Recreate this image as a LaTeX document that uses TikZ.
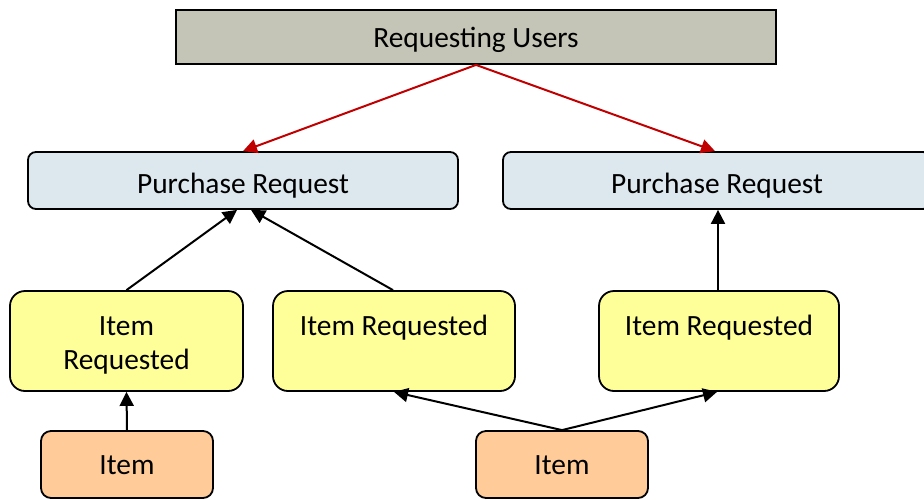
\documentclass[tikz,border=0pt]{standalone}
\usepackage{fontspec}
\setmainfont{Carlito}
\usetikzlibrary{arrows.meta,calc}
\definecolor{usersfill}{HTML}{C4C5B6}
\definecolor{reqfill}{HTML}{DCE8EE}
\definecolor{itemreqfill}{HTML}{FFFF99}
\definecolor{itemfill}{HTML}{FFCC99}
\definecolor{linkred}{HTML}{C00000}
% sets a line a little lower without changing its box size
\newcommand\dropline[2][1.4pt]{\raisebox{-#1}[\height][\depth]{#2}}
\begin{document}
\begin{tikzpicture}[x=0.5pt,y=-0.5pt,
  every node/.style={font=\fontsize{14.7}{18}\selectfont, text=black, inner sep=0pt},
  box/.style={draw=black, line width=0.9pt, align=center},
  usersbox/.style={box, fill=usersfill, minimum width=300pt, minimum height=27pt},
  reqbox/.style={box, fill=reqfill, rounded corners=4pt, minimum height=28.5pt},
  itemreqbox/.style={box, fill=itemreqfill, rounded corners=7.5pt, minimum height=50pt},
  itembox/.style={box, fill=itemfill, rounded corners=5pt, minimum width=86pt, minimum height=33.5pt},
  link/.style={line width=1pt, -{Triangle[length=7pt,width=7pt]}},
  redlink/.style={link, draw=linkred, -{Triangle[length=7pt,width=7pt,fill=linkred]}}
]
\useasboundingbox (0,0) rectangle (924,499);

% top level
\node[usersbox] (users) at (476,37) {\dropline[1.6pt]{Requesting Users}};

% purchase requests
\node[reqbox, minimum width=215pt] (prL) at (243,180.5) {\dropline[2.4pt]{Purchase Request}};
\node[reqbox, minimum width=214pt] (prR) at (717,180.5) {\dropline[2.4pt]{Purchase Request}};

% requested items
\node[itemreqbox, minimum width=116.5pt] (irL) at (126.5,341) {\dropline[2.5pt]{Item}\\\dropline[1.5pt]{Requested}};
\node[itemreqbox, minimum width=121pt] (irM) at (394,341) {\dropline[1pt]{Item Requested}\\\mbox{}};
\node[itemreqbox, minimum width=120pt] (irR) at (719,341) {\dropline[1pt]{Item Requested}\\\mbox{}};

% items
\node[itembox] (itL) at (127,464.5) {\dropline[0.3pt]{Item}};
\node[itembox] (itR) at (562,464.5) {\dropline[0.3pt]{Item}};

% users to purchase requests
\draw[redlink] (users.south) -- (prL.north);
\draw[redlink] (users.south) -- ($(prR.north)+(-2,0)$);

% requested items to purchase requests
\draw[link] (irL.north) -- ($(prL.south)+(-6,0)$);
\draw[link] ($(irM.north)+(-1,0)$) -- ($(prL.south)+(8,0)$);
\draw[link] ($(irR.north)+(-1,0)$) -- ($(prR.south)+(1,0)$);

% items to requested items
\draw[link] (itL.north) -- (irL.south);
\draw[link] (itR.north) -- (irM.south);
\draw[link] (itR.north) -- ($(irR.south)+(-2,0)$);
\end{tikzpicture}
\end{document}
